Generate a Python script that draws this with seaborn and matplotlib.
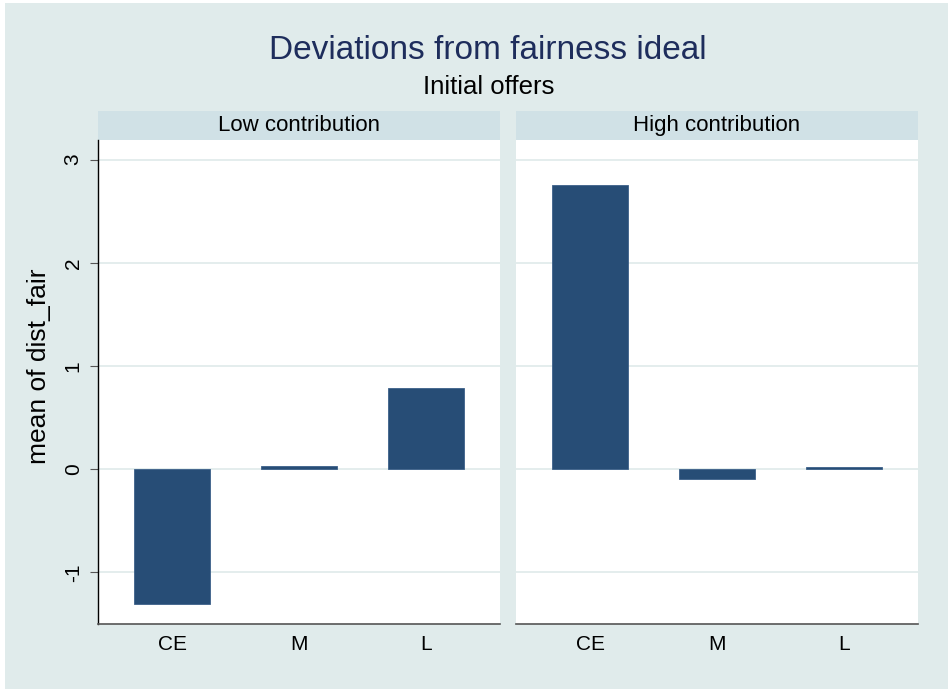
import pandas as pd
import seaborn as sns
import matplotlib.pyplot as plt
from matplotlib.patches import Rectangle

# data
groups = ["CE", "M", "L"]
low_contrib = [-1.31, 0.03, 0.79]
high_contrib = [2.75, -0.09, 0.025]
panels = ["Low contribution", "High contribution"]

df = pd.DataFrame({
    "group": groups * 2,
    "dist_fair": low_contrib + high_contrib,
    "panel": [panels[0]] * 3 + [panels[1]] * 3,
})

bg = "#e0ebeb"
strip = "#d0e1e6"
bar_col = "#274d76"

sns.set_theme(style="white")
plt.rcParams["font.family"] = ["Liberation Sans", "DejaVu Sans"]
plt.rcParams["axes.unicode_minus"] = False

fig = plt.figure(figsize=(9.48, 6.89), dpi=100, facecolor="white")
# outer graph region (small white margin top/left as in the export)
fig.patches.append(Rectangle((5 / 948, 0), 1, 1 - 3 / 689, transform=fig.transFigure,
                             facecolor=bg, edgecolor="none", zorder=-10))

left = fig.add_axes([0.1034, 0.0943, 0.424, 0.7025])
right = fig.add_axes([0.5443, 0.0943, 0.424, 0.7025])

for ax, name in zip([left, right], panels):
    sub = df[df["panel"] == name]
    sns.barplot(data=sub, x="group", y="dist_fair", order=groups,
                color=bar_col, saturation=1, width=0.6, ax=ax,
                edgecolor="#3c6089", linewidth=0.6, zorder=3)
    ax.set_facecolor("white")
    ax.set_xlim(-0.583, 2.583)
    ax.set_ylim(-1.5, 3.19)
    ax.set_yticks([-1, 0, 1, 2, 3])
    ax.yaxis.grid(True, color="#dfeaea", linewidth=1.2, zorder=0)
    ax.set_xlabel("")
    ax.set_ylabel("")
    for s in ["top", "right"]:
        ax.spines[s].set_visible(False)
    ax.spines["bottom"].set_color("#555555")
    ax.spines["bottom"].set_linewidth(1.2)
    ax.tick_params(axis="x", length=0, labelsize=15, pad=8, colors="black")
    # strip header
    ax.add_patch(Rectangle((0, 1.0), 1, 0.06, transform=ax.transAxes,
                           facecolor=strip, edgecolor="none", clip_on=False))
    ax.text(0.5, 1.03, name, transform=ax.transAxes, ha="center",
            va="center", fontsize=16, color="black")

left.spines["left"].set_color("black")
left.spines["left"].set_linewidth(1.0)
left.tick_params(axis="y", left=True, length=6, width=0.8, color="#555555",
                 labelsize=15, pad=5, colors="black")
for t in left.get_yticklabels():
    t.set_rotation(90)
    t.set_va("center")
left.set_ylabel("mean of dist_fair", fontsize=19, color="black")
left.yaxis.set_label_coords(-0.118, 0.533)

right.spines["left"].set_visible(False)
right.tick_params(axis="y", left=False, labelleft=False)

fig.text(0.515, 0.927, "Deviations from fairness ideal", ha="center",
         va="center", fontsize=24, color="#1e2d5c")
fig.text(0.515, 0.874, "Initial offers", ha="center", va="center",
         fontsize=18.5, color="black")

fig.savefig("out.png", dpi=100, facecolor="white")
